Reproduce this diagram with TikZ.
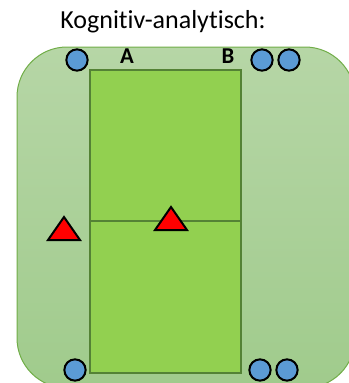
\documentclass[tikz,border=0pt]{standalone}
\usepackage{fontspec}
\setmainfont[Ligatures={NoCommon}]{Carlito}

\definecolor{fieldtop}{RGB}{182,214,166}
\definecolor{fieldbottom}{RGB}{160,203,140}
\definecolor{fieldedge}{RGB}{112,173,71}
\definecolor{courtgreen}{RGB}{146,208,80}
\definecolor{courtedge}{RGB}{84,130,53}
\definecolor{playerblue}{RGB}{91,155,213}

\begin{document}
\begin{tikzpicture}[x=0.75pt,y=-0.75pt]
		\tikzstyle{Player} = [circle, draw=black, line width=1.5pt, fill=playerblue, minimum size=16pt, inner sep=0pt]
		\tikzstyle{Cone}   = [draw=black, line width=1.5pt, fill=red, line join=miter]
		\tikzstyle{Court}  = [draw=courtedge, line width=1.9pt]
		
		\clip (0,0) rectangle (349,383);
		% outer field and the court
		\draw[fieldedge, line width=0.75pt, top color=fieldtop, bottom color=fieldbottom, rounded corners=37.5pt] (17,47) rectangle (355,388);
		\draw[Court, fill=courtgreen] (90,70) rectangle (241,373);
		\draw[Court] (90,221) -- (241,221);
		
		\node[font=\fontsize{19.5}{22}\selectfont] (title) at (163,22) {Kognitiv-analytisch:};
		\node[font=\bfseries\fontsize{17}{19}\selectfont] (A) at (127,56) {A};
		\node[font=\bfseries\fontsize{17}{19}\selectfont] (B) at (228,56) {B};
		
		\node[Player] (p1) at (77,60) {}; \node[Player] (p2) at (262,60) {}; \node[Player] (p3) at (289,60) {};
		\node[Player] (p4) at (75,370) {}; \node[Player] (p5) at (260,370) {}; \node[Player] (p6) at (287,370) {};
		
		\draw[Cone] (48,240) -- (64,217) -- (80,240) -- cycle;
		\draw[Cone] (155,230) -- (171,207) -- (187,230) -- cycle;
	\end{tikzpicture}
\end{document}
